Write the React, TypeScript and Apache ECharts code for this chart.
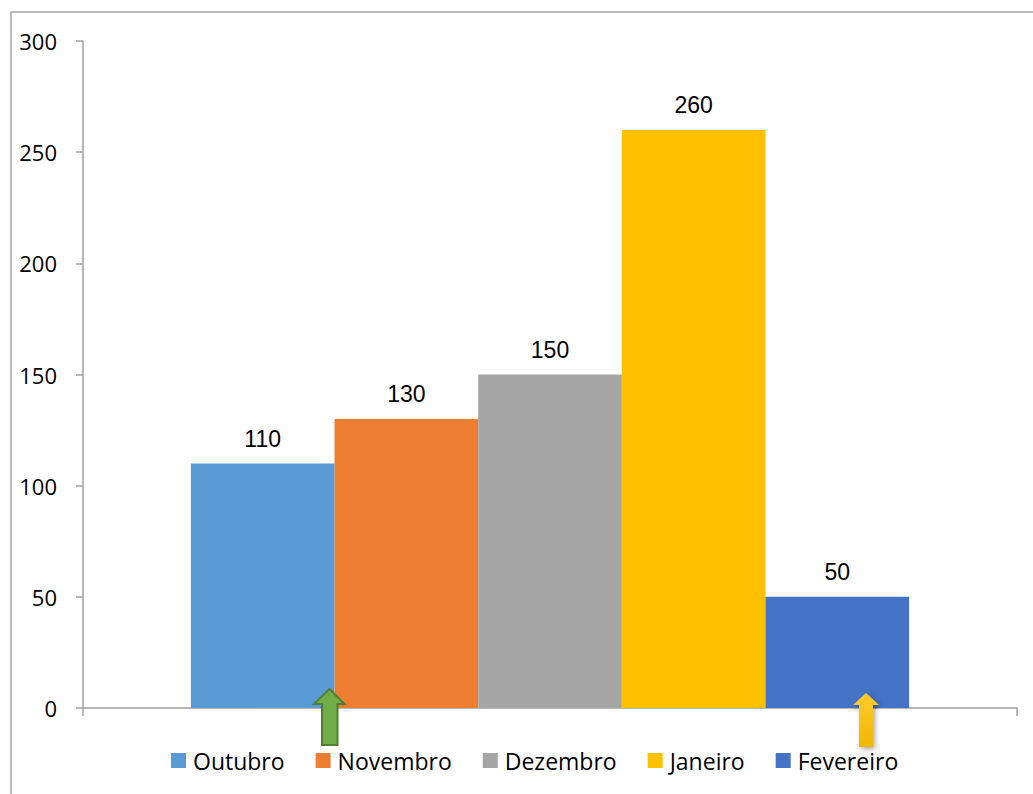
import React, { useEffect, useRef } from "react";
import * as echarts from "echarts";

const seriesNames = ["Outubro", "Novembro", "Dezembro", "Janeiro", "Fevereiro"];
const seriesValues = [110, 130, 150, 260, 50];
const seriesColors = ["#5B9BD5", "#ED7D31", "#A5A5A5", "#FFC000", "#4472C4"];
const yMin = 0;
const yMax = 300;
const yInterval = 50;

export default function App() {
  const ref = useRef<HTMLDivElement>(null);
  useEffect(() => {
    const chart = echarts.init(ref.current!, null, { renderer: "svg" });
    const axisColor = "#A0A0A0";
    chart.setOption({
      animation: false,
      backgroundColor: "#fff",
      grid: { left: 83, right: 16, top: 41, bottom: 86, containLabel: false },
      legend: {
        left: 171,
        top: 749,
        padding: 0,
        icon: "rect",
        itemWidth: 15,
        itemHeight: 15,
        itemGap: 31,
        textStyle: { fontFamily: "Open Sans", fontSize: 23, color: "#000", padding: [0, 0, 0, 2] },
        data: seriesNames,
      },
      xAxis: {
        type: "category",
        data: [""],
        axisLine: { show: true, lineStyle: { color: axisColor, width: 1.5 } },
        axisTick: { show: true, length: 8, lineStyle: { color: axisColor, width: 1.5 } },
        axisLabel: { show: false },
      },
      yAxis: {
        type: "value",
        min: yMin,
        max: yMax,
        interval: yInterval,
        axisLine: { show: true, lineStyle: { color: axisColor, width: 1.5 } },
        axisTick: { show: true, length: 7, lineStyle: { color: axisColor, width: 1.5 } },
        splitLine: { show: false },
        axisLabel: { margin: 26, fontFamily: "Open Sans", fontSize: 22, color: "#000" },
      },
      series: seriesNames.map((name, i) => ({
        name,
        type: "bar",
        data: [seriesValues[i]],
        barGap: "0%",
        barCategoryGap: "23.1%",
        itemStyle: { color: seriesColors[i] },
        label: {
          show: true,
          position: "top",
          distance: 13,
          fontFamily: "Liberation Sans",
          fontSize: 23,
          color: "#000",
        },
      })),
      graphic: [
        {
          type: "rect",
          shape: { x: 11, y: 12, width: 1100, height: 900 },
          style: { fill: "none", stroke: "#A6A6A6", lineWidth: 1.5 },
          silent: true,
          z: 0,
        },
        {
          type: "polygon",
          shape: {
            points: [
              [329.5, 689],
              [344.5, 704],
              [337.5, 704],
              [337.5, 745],
              [322, 745],
              [322, 704],
              [314, 704],
            ],
          },
          style: { fill: "#70AD47", stroke: "#507E32", lineWidth: 2 },
          z: 100,
        },
        {
          type: "polygon",
          shape: {
            points: [
              [866, 693],
              [879, 705],
              [873, 705],
              [873, 747],
              [859, 747],
              [859, 705],
              [853, 705],
            ],
          },
          style: {
            fill: new echarts.graphic.LinearGradient(0, 0, 0, 1, [
              { offset: 0, color: "#FFCB2E" },
              { offset: 1, color: "#F2B600" },
            ]),
            shadowBlur: 5,
            shadowOffsetX: 2,
            shadowOffsetY: 2,
            shadowColor: "rgba(0,0,0,0.35)",
          },
          z: 100,
        },
      ],
    });
    return () => chart.dispose();
  }, []);
  return (
    <div
      ref={ref}
      style={{ position: "fixed", left: 0, top: 0, width: 1033, height: 794 }}
    />
  );
}
